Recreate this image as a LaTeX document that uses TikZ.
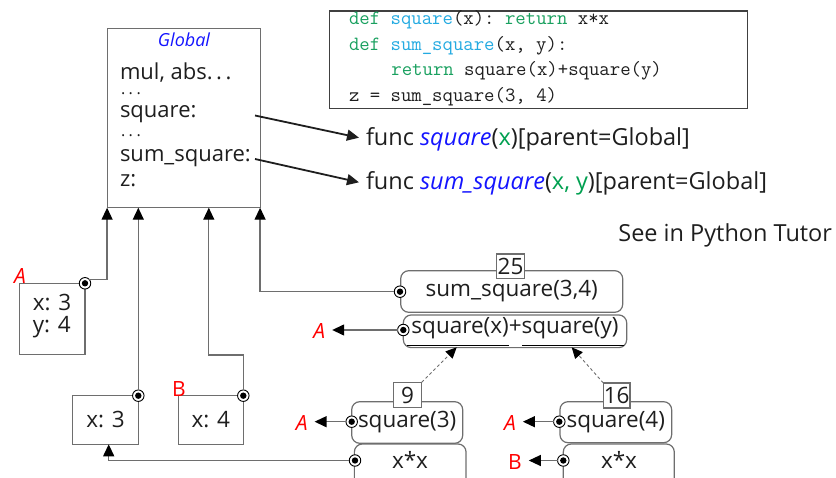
\documentclass[tikz,border=0pt]{standalone}
\usepackage{fontspec}
\setmainfont{Open Sans}
\usetikzlibrary{arrows.meta,calc}
\definecolor{lg}{RGB}{110,110,110}
\definecolor{txt}{RGB}{30,30,30}
\definecolor{cgreen}{RGB}{25,160,95}
\definecolor{ccyan}{RGB}{35,170,225}
\definecolor{fblue}{RGB}{20,20,255}
\definecolor{agreen}{RGB}{0,160,80}
\definecolor{lred}{RGB}{255,0,0}
\newcommand{\dts}{.\kern3.5pt.\kern3.5pt.}
\begin{document}
\begin{tikzpicture}[x=1pt,y=-1pt,
  every node/.style={inner sep=0pt, outer sep=0pt, text=txt, font=\fontsize{22.5}{26}\selectfont},
  frame/.style={draw=lg, line width=1.2pt, rectangle},
  rframe/.style={frame, rounded corners=8pt},
  numbox/.style={draw=lg, line width=1.2pt, fill=white, rectangle},
  ptr/.style={circle, draw=black, line width=0.9pt, fill=white, minimum size=11.5pt,
    path picture={\fill[black] (path picture bounding box.center) circle (3.2pt);}},
  link/.style={draw=lg, line width=1.3pt, -{Triangle[length=12pt,width=11pt,color=black]}},
  dlink/.style={draw=lg, line width=0.9pt, dash pattern=on 3pt off 2.5pt, -{Triangle[length=11pt,width=10pt,color=black]}},
  farrow/.style={draw=txt, line width=1.8pt, -{Triangle[length=12pt,width=11pt]}},
  redl/.style={text=lred, font=\fontsize{21}{24}\selectfont},
  gtext/.style={anchor=base west, font=\fontsize{22}{26}\selectfont},
  gdots/.style={anchor=base west, font=\fontsize{16}{16}\selectfont},
  code/.style={anchor=base west, font=\fontsize{20.2}{24}\ttfamily\frenchspacing},
]
\useasboundingbox (0,0) rectangle (836,478);
\clip (0,0) rectangle (836,478);

% Global frame
\node[frame, minimum width=153pt, minimum height=179.4pt] (glob) at (183.6,118) {};
\node[anchor=base, text=fblue, font=\fontsize{18}{20}\selectfont\itshape] (gt) at (184,46.5) {Global};
\node[gtext] (g1) at (120,79.5) {mul, abs\dts};
\node[gdots] (g2) at (121,94.5) {\dts};
\node[gtext] (g3) at (120,118) {square:};
\node[gdots] (g4) at (121,137) {\dts};
\node[gtext] (g5) at (120,162) {sum\_square:};
\node[gtext] (g6) at (120,187) {z:};

% code box
\node[frame, draw=black!75, minimum width=418pt, minimum height=97.3pt] (code) at (538.3,59.7) {};
\node[code] (c1) at (349,25) {\textcolor{cgreen}{def} \textcolor{ccyan}{square}(x): \textcolor{cgreen}{return} x*x};
\node[code] (c2) at (349,50.5) {\textcolor{cgreen}{def} \textcolor{ccyan}{sum\_square}(x, y):};
\node[code] (c3) at (391.4,76) {\textcolor{cgreen}{return} square(x)+square(y)};
\node[code] (c4) at (349,101.5) {z = sum\_square(3, 4)};

% function objects
\node[anchor=base west, font=\fontsize{23.5}{26}\selectfont] (f1) at (366,146)
  {func \textcolor{fblue}{\itshape square}(\textcolor{agreen}{x})[parent=Global]};
\node[anchor=base west, font=\fontsize{23.5}{26}\selectfont] (f2) at (366,190)
  {func \textcolor{fblue}{\itshape sum\_square}(\textcolor{agreen}{x, y})[parent=Global]};
\coordinate (s1) at (255,115.5);
\coordinate (t1) at (359,137.7);
\coordinate (s2) at (255,159);
\coordinate (t2) at (359,182.3);
\draw[farrow] (s1) -- (t1);
\draw[farrow] (s2) -- (t2);

\node[anchor=base east, font=\fontsize{23.5}{26}\selectfont] (see) at (832,241.5) {See in Python Tutor};

% frame A (sum_square)
\node[frame, minimum width=65.7pt, minimum height=71pt] (fa) at (52.2,318.8) {};
\node[align=left, font=\fontsize{22.5}{22}\selectfont] (fat) at (52,316) {x: 3\\y: 4};
\node[ptr] (pa) at (85,283.3) {};
\node[redl, font=\fontsize{21}{24}\selectfont\itshape] (la) at (20,276) {A};

% frames for square calls
\node[frame, minimum width=65.6pt, minimum height=48.6pt] (fb) at (105.5,420) {x: 3};
\node[ptr] (pb) at (138.3,395.7) {};
\node[frame, minimum width=65pt, minimum height=48.6pt] (fc) at (210.8,420) {x: 4};
\node[ptr] (pc) at (243.3,395.7) {};
\node[redl] (lb) at (179,389) {B};

% links to Global
\coordinate (k1) at (208.8,355);
\draw[link] (pa.north east) -| (glob.south west);
\draw[link] (pb) -- (pb |- glob.south);
\draw[link] (pc) |- (k1) -- (k1 |- glob.south);

% evaluation tree
\node[rframe, minimum width=222pt, minimum height=41.6pt] (ss) at (511.7,291.5) {sum\_square(3,4)};
\node[rframe, minimum width=223.4pt, minimum height=32.7pt] (sxy) at (515,331.3) {};
\node (sxyt) at (515,328.5) {square(x)+square(y)};
\draw[black, line width=0.8pt] (407,345) -- (509,345);
\draw[black, line width=0.8pt] (522,345) -- (624,345);
\node[numbox, minimum width=27.6pt, minimum height=24.3pt] (n25) at (510.5,266.2) {25};
\node[ptr] (ssp) at (400,291.7) {};
\node[ptr] (sxyp) at (403.3,330) {};
\node[redl, font=\fontsize{21}{24}\selectfont\itshape] (la1) at (319.3,331) {A};
\draw[link, shorten >=7pt] (sxyp) -- (sxyp -| la1.east);
\draw[link] (ssp) -| (glob.south east);

% square(3)
\node[rframe, minimum width=111pt, minimum height=41.6pt] (sq3) at (407.2,422.5) {square(3)};
\node[rframe, minimum width=111.7pt, minimum height=60pt] (xx3) at (410.2,474) {};
\node (xx3t) at (410,460) {x*x};
\node[numbox, minimum width=28.4pt, minimum height=25.4pt] (n9) at (407.5,395) {9};
\node[ptr] (sq3p) at (351.7,421.7) {};
\node[ptr] (xx3p) at (355,460.5) {};
\node[redl, font=\fontsize{21}{24}\selectfont\itshape] (la2) at (301.7,423.5) {A};
\draw[link, shorten >=7pt] (sq3p) -- (sq3p -| la2.east);
\draw[link] (xx3p) -| ([xshift=3.2pt]fb.south);

% square(4)
\node[rframe, minimum width=111.7pt, minimum height=41pt] (sq4) at (615.8,422.2) {square(4)};
\node[rframe, minimum width=111pt, minimum height=60pt] (xx4) at (618.8,474) {};
\node (xx4t) at (619,460) {x*x};
\node[numbox, minimum width=26.7pt, minimum height=25pt] (n16) at (616.7,395.5) {16};
\node[ptr] (sq4p) at (559.3,421.7) {};
\node[ptr] (xx4p) at (563.3,460.5) {};
\node[redl, font=\fontsize{21}{24}\selectfont\itshape] (la3) at (510,423.5) {A};
\node[redl] (lb2) at (515,462.5) {B};
\draw[link, shorten >=7pt] (sq4p) -- (sq4p -| la3.east);
\draw[link, shorten >=7pt] (xx4p) -- (xx4p -| lb2.east);

% return-value arrows
\coordinate (d1) at (456.7,347.3);
\coordinate (d2) at (571.7,347.3);
\draw[dlink] (n9.north east) -- (d1);
\draw[dlink] (n16.north west) -- (d2);
\end{tikzpicture}
\end{document}
